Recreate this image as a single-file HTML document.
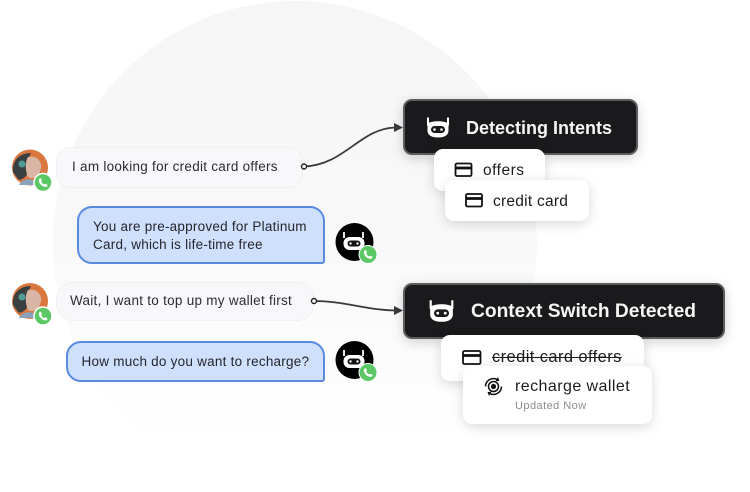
<!DOCTYPE html>
<html><head><meta charset="utf-8"><style>
html,body{margin:0;padding:0;background:#fff}
#p{position:relative;width:750px;height:492px;overflow:hidden;background:#fff;font-family:"Liberation Sans",sans-serif;filter:blur(.35px)}
#p>*{position:absolute;box-sizing:border-box}
.circle{left:53px;top:1px;width:484px;height:484px;border-radius:50%;background:linear-gradient(#f6f6f6 0%,#f8f8f8 45%,#fdfdfd 80%,#fff 90%)}
.u{background:#f8f8fa;border:1.5px solid #f0f0f2;color:#2b2b33;font-size:13.5px;letter-spacing:.27px;line-height:18px;border-radius:14px;white-space:nowrap}
.b{background:#cfe0fd;border:2px solid #5a8ae0;color:#24252d;font-size:13.5px;letter-spacing:.24px;line-height:17.5px;border-radius:15px 15px 3px 15px;white-space:nowrap}
.d{background:#1a1a1c;border:2px solid #5c5c60;border-radius:9px;box-shadow:0 3px 12px rgba(0,0,0,.18);color:#f6f6f6;font-weight:bold;font-size:18px;letter-spacing:0;white-space:nowrap}
.c{background:#fff;border-radius:9px;box-shadow:0 3px 12px rgba(0,0,0,.15);color:#1c1c20;white-space:nowrap;font-size:15.5px;letter-spacing:.35px}
svg{overflow:visible}
</style></head><body><div id="p">
<div class="circle"></div>

<svg style="left:0;top:0" width="750" height="492" viewBox="0 0 750 492">
<path d="M304 166.500C345 165 360 128 396 127.500" fill="none" stroke="#3a3a3e" stroke-width="1.800"/>
<path d="M403 127.500l-9-4.500v9z" fill="#3a3a3e"/>
<path d="M314 301C345 301 365 310 396 310.500" fill="none" stroke="#3a3a3e" stroke-width="1.800"/>
<path d="M403 310.500l-9-4.500v9z" fill="#3a3a3e"/>
</svg>

<div class="u" style="left:56px;top:147px;width:247px;height:41px;padding:10px 0 0 15px">I am looking for credit card offers</div>
<div class="b" style="left:77px;top:206px;width:248px;height:58px;padding:10px 0 0 14px">You are pre-approved for Platinum<br>Card, which is life-time free</div>
<div class="u" style="left:56px;top:282px;width:258px;height:39px;padding:9px 0 0 13px;border-radius:17px">Wait, I want to top up my wallet first</div>
<div class="b" style="left:66px;top:341px;width:259px;height:41px;padding:10px 0 0 13.500px">How much do you want to recharge?</div>

<svg style="left:0;top:0" width="750" height="492" viewBox="0 0 750 492">
<circle cx="304" cy="166.500" r="2.500" fill="#fff" stroke="#222" stroke-width="1.400"/>
<circle cx="314" cy="301" r="2.500" fill="#fff" stroke="#222" stroke-width="1.400"/>
<g>
<circle cx="30" cy="167.500" r="18" fill="#d9773f"/>
<path d="M13 172C12 160 20 153 31 153C28 158 28 165 28 172C26 178 20 181 18 179Z" fill="#3a3f40"/>
<path d="M28 157C36 155 42 161 41 168L39 175C36 178 31 179 28 177C25 170 25 162 28 157Z" fill="#d8b5a5"/>
<circle cx="22" cy="164" r="3.500" fill="#4e9e96"/>
<path d="M19 185C21 180 28 178 33 180L35 185Z" fill="#8aa3bd"/>
</g>
<g>
<circle cx="30" cy="301" r="18" fill="#d9773f"/>
<path d="M13 305C12 293 20 286 31 286C28 291 28 298 28 305C26 311 20 314 18 312Z" fill="#3a3f40"/>
<path d="M28 290C36 288 42 294 41 301L39 308C36 311 31 312 28 310C25 303 25 295 28 290Z" fill="#d8b5a5"/>
<circle cx="22" cy="297" r="3.500" fill="#4e9e96"/>
<path d="M19 318C21 313 28 311 33 313L35 318Z" fill="#8aa3bd"/>
</g>
<circle cx="43" cy="182.500" r="9" fill="#5cc765" stroke="#fff" stroke-width="1.500"/>
<path d="M39.500 178.500c1-1 2 .5 2.300 1.500.2 1-.7 1-.3 2 .5 1 1.300 1.800 2.300 2.200.8.200 1-.6 2-.3s2 1.200 1.500 2.200c-1.500 1.500-4 .7-6-1-2-1.800-3.300-4.800-1.800-6.600z" fill="#fff"/>
<circle cx="43" cy="316" r="9" fill="#5cc765" stroke="#fff" stroke-width="1.500"/>
<path d="M39.500 312c1-1 2 .5 2.300 1.500.2 1-.7 1-.3 2 .5 1 1.300 1.800 2.300 2.200.8.200 1-.6 2-.3s2 1.200 1.500 2.200c-1.500 1.500-4 .7-6-1-2-1.800-3.300-4.800-1.800-6.600z" fill="#fff"/>

<g transform="translate(354.500,242)">
<circle r="19" fill="#000"/>
<path d="M-10.500-10v6M8.500-10v6" stroke="#fff" stroke-width="1.800" fill="none"/>
<rect x="-11" y="-5" width="21" height="13" rx="6" fill="#fff"/>
<rect x="-7" y="-1.500" width="13" height="6" rx="3" fill="#111"/>
<circle cx="-4" cy="1.500" r="1.200" fill="#fff"/><circle cx="3" cy="1.500" r="1.200" fill="#fff"/>
</g>
<circle cx="368" cy="254.500" r="9" fill="#5cc765" stroke="#fff" stroke-width="1"/>
<path d="M364.500 250.500c1-1 2 .5 2.300 1.500.2 1-.7 1-.3 2 .5 1 1.300 1.800 2.300 2.200.8.200 1-.6 2-.3s2 1.200 1.500 2.200c-1.500 1.500-4 .7-6-1-2-1.800-3.300-4.800-1.800-6.600z" fill="#fff"/>
<g transform="translate(354.500,360)">
<circle r="19" fill="#000"/>
<path d="M-10.500-10v6M8.500-10v6" stroke="#fff" stroke-width="1.800" fill="none"/>
<rect x="-11" y="-5" width="21" height="13" rx="6" fill="#fff"/>
<rect x="-7" y="-1.500" width="13" height="6" rx="3" fill="#111"/>
<circle cx="-4" cy="1.500" r="1.200" fill="#fff"/><circle cx="3" cy="1.500" r="1.200" fill="#fff"/>
</g>
<circle cx="368" cy="372.500" r="9" fill="#5cc765" stroke="#fff" stroke-width="1"/>
<path d="M364.500 368.500c1-1 2 .5 2.300 1.500.2 1-.7 1-.3 2 .5 1 1.300 1.800 2.300 2.200.8.200 1-.6 2-.3s2 1.200 1.500 2.200c-1.500 1.500-4 .7-6-1-2-1.800-3.300-4.800-1.800-6.600z" fill="#fff"/>
</svg>

<div class="d" style="left:403px;top:99px;width:235px;height:56px;padding:17px 0 0 61px">Detecting Intents</div>
<div class="d" style="left:403px;top:283px;width:322px;height:56px;padding:16px 0 0 66px;font-size:19.200px">Context Switch Detected</div>

<div class="c" style="left:434px;top:149px;width:111px;height:42px;padding:12.500px 0 0 49px;letter-spacing:.5px">offers</div>
<div class="c" style="left:445px;top:180px;width:144px;height:41px;padding:12.500px 0 0 48px;letter-spacing:.25px">credit card</div>
<div class="c" style="left:441px;top:335px;width:203px;height:46px;padding:13px 0 0 51px;font-size:16.500px;letter-spacing:.4px;text-decoration:line-through">credit card offers</div>
<div class="c" style="left:463px;top:366px;width:189px;height:58px;padding:12px 0 0 52px;font-size:16px;letter-spacing:.44px">recharge wallet<div style="font-size:11px;color:#8b8b92;letter-spacing:.45px;margin-top:4px">Updated Now</div></div>

<svg style="left:0;top:0" width="750" height="492" viewBox="0 0 750 492">
<g transform="translate(438,127.500)">
<path d="M-10-10v8M10-10v8" stroke="#fff" stroke-width="2"/>
<path d="M-10.500-4C-6-7 6-7 10.500-4V3C10.500 8 6 10 0 10S-10.500 8-10.500 3Z" fill="#fff"/>
<rect x="-7" y="-1.500" width="14" height="7" rx="3.500" fill="#1a1a1c"/>
<circle cx="-3.500" cy="2" r="1.300" fill="#fff"/><circle cx="3.500" cy="2" r="1.300" fill="#fff"/>
</g>
<g transform="translate(441.500,311) scale(1.080)">
<path d="M-10-10v8M10-10v8" stroke="#fff" stroke-width="2"/>
<path d="M-10.500-4C-6-7 6-7 10.500-4V3C10.500 8 6 10 0 10S-10.500 8-10.500 3Z" fill="#fff"/>
<rect x="-7" y="-1.500" width="14" height="7" rx="3.500" fill="#1a1a1c"/>
<circle cx="-3.500" cy="2" r="1.300" fill="#fff"/><circle cx="3.500" cy="2" r="1.300" fill="#fff"/>
</g>
<g fill="none" stroke="#111" stroke-width="1.800">
<rect x="455.500" y="163.500" width="16" height="12.500" rx="1.500"/><path d="M455.500 168h16" stroke-width="2.800"/>
<rect x="466" y="194" width="16" height="12.500" rx="1.500"/><path d="M466 198.500h16" stroke-width="2.800"/>
<rect x="463" y="351" width="17.500" height="13" rx="1.500"/><path d="M463 355.500h17.500" stroke-width="2.800"/>
<circle cx="493.500" cy="386.500" r="5" stroke-width="1.500"/>
<path d="M485.500 386.500a8 8 0 0 1 12.500-6.500M501.500 386.500a8 8 0 0 1-12.500 6.500" stroke-width="1.500"/>
</g>
<path d="M498 377l1.500 4-4 .2zM489 396l-1.500-4 4-.2z" fill="#111"/>
<circle cx="493.500" cy="386.500" r="2.600" fill="#111"/>
</svg>
</div></body></html>
